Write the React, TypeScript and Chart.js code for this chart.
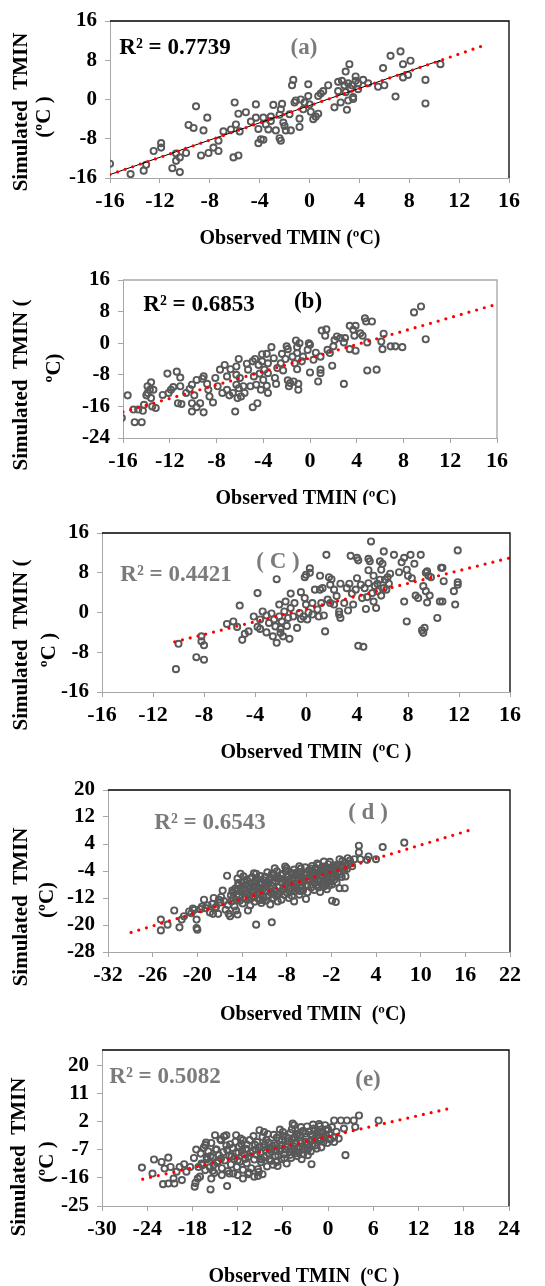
import React, { useEffect, useRef } from 'react';
import { Chart, registerables } from 'chart.js';

Chart.register(...registerables);

const FONT = '"Liberation Serif", "Times New Roman", serif';
const AXIS_GRAY = '#a6a6a6';
const LABEL_GRAY = '#7b7b7b';
const POINT_GRAY = '#595959';
const TREND_RED = '#ff0000';

// ---------- Panel (a) ----------
const aXTicks = [-16, -12, -8, -4, 0, 4, 8, 12, 16];
const aYTicks = [-16, -8, 0, 8, 16];
const aPoints: [number, number][] = [
  [-16.0, -13.1], [-14.35, -15.2], [-13.3, -14.5], [-13.1, -13.3], [-12.5, -10.5], [-11.9, -8.9],
  [-11.9, -9.8], [-11.0, -14.0], [-10.7, -11.0], [-10.7, -12.5], [-10.4, -11.8], [-10.4, -14.8],
  [-9.9, -10.9], [-9.7, -5.2], [-9.3, -5.8], [-9.1, -1.4], [-8.7, -11.4], [-8.5, -6.3],
  [-8.2, -3.7], [-8.1, -10.9], [-7.7, -9.8], [-7.3, -10.5], [-7.3, -8.4], [-6.9, -6.5],
  [-6.3, -6.1], [-6.1, -11.8], [-6.0, -0.6], [-5.9, -5.1], [-5.7, -11.4], [-5.7, -2.9],
  [-5.6, -6.5], [-5.1, -2.6], [-4.7, -4.5], [-4.3, -1.0], [-4.3, -3.7], [-4.1, -6.0],
  [-4.1, -8.9], [-3.9, -8.1], [-3.7, -8.2], [-3.7, -3.7], [-3.5, -5.1], [-3.3, -6.1],
  [-3.1, -4.4], [-3.1, -3.5], [-2.9, -1.1], [-2.7, -6.3], [-2.4, -3.1], [-2.4, -7.9],
  [-2.3, -8.4], [-2.3, -2.0], [-2.2, -0.9], [-2.1, -4.7], [-2.0, -5.4], [-1.9, -6.3],
  [-1.6, -3.0], [-1.5, -6.3], [-1.4, 2.9], [-1.3, 4.0], [-1.2, -0.6], [-1.1, -0.2],
  [-0.8, -3.9], [-0.8, -5.6], [-0.7, 0.0], [-0.5, -2.0], [-0.4, -0.6], [-0.1, 3.1],
  [-0.1, 0.7], [0.0, -1.0], [0.1, -2.5], [0.3, -4.0], [0.5, -3.5], [0.7, -2.9],
  [0.7, 0.7], [0.9, 1.2], [1.1, 1.7], [1.5, 2.9], [2.0, -1.6], [2.3, 3.6],
  [2.3, 1.7], [2.5, -0.6], [2.6, 3.8], [2.8, 2.9], [2.9, 5.7], [2.9, 1.5],
  [3.0, -2.1], [3.1, 3.3], [3.1, -0.2], [3.2, 7.2], [3.3, 2.2], [3.4, 2.9],
  [3.5, 0.5], [3.5, 0.1], [3.7, 4.7], [3.7, 3.8], [3.9, 2.1], [3.9, 3.3],
  [4.3, 4.0], [4.7, 3.3], [5.5, 2.6], [5.9, 6.4], [6.0, 2.9], [6.5, 8.9],
  [6.9, 0.6], [7.3, 9.8], [7.5, 7.2], [7.5, 4.5], [7.9, 5.0], [8.1, 7.9],
  [9.3, 4.0], [9.3, -0.8], [10.5, 7.2],
];
const aTrendX = [-16, 14.3];
const aTrendY = [-15.3, 11.3];
const aRefLineX = [-16, 10.5];
const aRefLineY = [-15.3, 8.0];

// ---------- Panel (b) ----------
const bXTicks = [-16, -12, -8, -4, 0, 4, 8, 12, 16];
const bYTicks = [-24, -16, -8, 0, 8, 16];
const bPoints: [number, number][] = [
  [-16.1, -18.9], [-15.6, -13.2], [-15.1, -16.8], [-15.0, -20.0], [-14.7, -16.8], [-14.4, -20.0],
  [-14.3, -17.1], [-14.2, -15.6], [-14.0, -13.2], [-13.9, -12.6], [-13.9, -10.9], [-13.7, -11.8],
  [-13.6, -9.9], [-13.6, -13.9], [-13.5, -16.0], [-13.4, -11.8], [-13.2, -16.4], [-12.6, -13.1],
  [-12.2, -7.7], [-12.1, -12.6], [-11.9, -11.8], [-11.7, -11.1], [-11.4, -7.2], [-11.3, -15.2],
  [-11.1, -8.7], [-11.1, -10.9], [-11.0, -15.4], [-10.6, -12.6], [-10.3, -11.6], [-10.1, -10.5],
  [-10.1, -15.2], [-10.1, -17.3], [-9.9, -13.2], [-9.7, -9.3], [-9.7, -16.2], [-9.4, -15.2],
  [-9.2, -9.0], [-9.1, -8.4], [-9.1, -17.5], [-8.8, -10.3], [-8.7, -11.8], [-8.6, -13.5],
  [-8.3, -15.0], [-8.1, -8.8], [-7.9, -10.9], [-7.7, -6.7], [-7.5, -12.6], [-7.3, -5.5],
  [-7.1, -8.4], [-7.1, -11.8], [-6.9, -13.2], [-6.8, -6.6], [-6.6, -12.6], [-6.4, -17.3],
  [-6.3, -5.9], [-6.3, -8.0], [-6.3, -10.5], [-6.2, -13.9], [-6.1, -11.4], [-6.1, -4.0],
  [-6.0, -8.8], [-5.9, -13.5], [-5.7, -10.9], [-5.6, -12.6], [-5.4, -5.2], [-5.3, -6.7],
  [-5.1, -10.9], [-4.9, -16.2], [-4.9, -4.6], [-4.8, -8.4], [-4.7, -4.0], [-4.6, -10.5],
  [-4.5, -15.2], [-4.4, -5.5], [-4.3, -7.7], [-4.2, -11.8], [-4.1, -2.8], [-4.1, -4.6],
  [-4.0, -9.3], [-3.9, -6.7], [-3.7, -2.7], [-3.7, -10.8], [-3.6, -7.6], [-3.6, -5.1],
  [-3.6, -12.6], [-3.3, -1.0], [-3.1, -3.8], [-3.0, -8.8], [-2.9, -10.3], [-2.8, -6.3],
  [-2.5, -5.1], [-2.4, -2.7], [-2.3, -6.9], [-2.1, -4.0], [-2.0, -0.8], [-1.9, -1.5],
  [-1.9, -9.4], [-1.8, -10.9], [-1.7, -10.1], [-1.5, -3.4], [-1.4, -9.7], [-1.3, -5.1],
  [-1.2, 0.7], [-1.1, -1.0], [-1.1, -6.6], [-1.1, -2.5], [-1.0, -10.3], [-1.0, -11.8],
  [-0.9, 0.0], [-0.7, -4.6], [-0.6, -3.4], [-0.2, -1.7], [-0.1, 0.0], [0.0, -7.4],
  [0.0, -0.4], [0.3, -4.2], [0.5, -2.4], [0.7, -9.7], [0.9, -3.4], [0.9, -6.7],
  [0.9, -7.6], [1.0, 3.2], [1.3, 1.9], [1.4, 3.5], [1.5, -1.7], [1.7, -2.5],
  [1.9, -5.7], [2.0, -0.8], [2.1, 0.8], [2.3, 1.7], [2.6, 1.3], [2.9, 0.2],
  [2.9, -10.3], [3.0, 1.3], [3.4, 4.4], [3.4, -1.5], [3.7, 3.4], [3.8, 1.9],
  [3.9, 4.4], [3.9, -1.9], [4.3, 2.5], [4.5, 1.9], [4.7, 6.3], [4.8, 5.5],
  [4.9, 0.2], [4.9, -6.9], [5.3, 5.5], [5.7, -6.7], [6.1, 0.4], [6.2, -1.5],
  [6.3, 2.4], [6.9, -0.8], [7.3, -0.8], [7.9, -1.0], [8.9, 7.8], [9.5, 9.3],
  [9.9, 1.0],
];
const bTrendX = [-16, 16];
const bTrendY = [-17.4, 9.9];

// ---------- Panel (c) ----------
const cXTicks = [-16, -12, -8, -4, 0, 4, 8, 12, 16];
const cYTicks = [-16, -8, 0, 8, 16];
const cPoints: [number, number][] = [
  [-10.2, -11.4], [-10.0, -6.3], [-8.6, -9.0], [-8.2, -4.8], [-8.2, -5.8], [-8.0, -6.6],
  [-8.0, -9.5], [-6.2, -2.3], [-5.7, -1.8], [-5.4, -2.9], [-5.2, 1.4], [-5.0, -5.5],
  [-4.8, -4.3], [-4.5, -3.8], [-4.1, -0.8], [-3.8, 3.9], [-3.8, -2.9], [-3.6, -1.4],
  [-3.6, -3.3], [-3.4, 0.2], [-3.1, -0.6], [-3.1, -4.0], [-2.9, -2.1], [-2.7, -0.2],
  [-2.6, -4.8], [-2.5, -1.4], [-2.4, -2.8], [-2.3, 6.7], [-2.3, -6.1], [-2.1, -0.8],
  [-2.1, 1.6], [-2.0, -3.3], [-2.0, -4.1], [-1.9, -1.8], [-1.8, -4.8], [-1.7, 0.2],
  [-1.6, 2.2], [-1.5, -2.7], [-1.4, -1.1], [-1.3, -5.3], [-1.2, 3.8], [-1.2, 0.9],
  [-1.0, -0.8], [-0.9, 1.9], [-0.7, -3.1], [-0.5, -0.1], [-0.4, 4.1], [-0.4, -1.3],
  [-0.2, -0.8], [-0.1, 7.1], [-0.1, 2.9], [0.0, 7.6], [0.0, 1.6], [0.1, -1.4],
  [0.2, 0.0], [0.3, 8.9], [0.3, 8.0], [0.5, 1.9], [0.5, -0.4], [0.7, 4.6],
  [0.9, 0.6], [1.0, -0.8], [1.1, 7.4], [1.1, 4.6], [1.2, 1.9], [1.3, 4.9],
  [1.4, -0.6], [1.5, -3.8], [1.6, 11.6], [1.7, 2.6], [1.8, 7.1], [1.9, 5.6],
  [1.9, 1.9], [2.0, 6.7], [2.2, 4.6], [2.2, 1.6], [2.4, 3.3], [2.6, 0.2],
  [2.6, -0.4], [2.7, -1.1], [2.7, 5.8], [3.0, 1.9], [3.2, 4.9], [3.3, 0.4],
  [3.4, 5.8], [3.5, 11.4], [3.6, 3.8], [3.7, 1.6], [3.9, 4.6], [4.0, 6.9],
  [4.0, 11.0], [4.1, 10.5], [4.1, -6.7], [4.3, 5.6], [4.4, 2.9], [4.5, -6.9],
  [4.6, 4.9], [4.7, 0.7], [4.8, 3.1], [4.9, 10.8], [4.9, 8.5], [4.9, 5.9],
  [5.0, 10.3], [5.1, 14.3], [5.2, 3.9], [5.3, 2.2], [5.3, 7.4], [5.4, 5.3],
  [5.5, 0.9], [5.6, 5.8], [5.6, 4.3], [5.8, 10.3], [5.8, 6.6], [5.9, 8.6],
  [5.9, 3.4], [6.0, 9.8], [6.1, 12.3], [6.1, 4.9], [6.2, 6.6], [6.3, 4.6],
  [6.4, 7.1], [6.5, 5.8], [6.6, 7.8], [6.9, 11.6], [7.3, 8.1], [7.5, 10.1],
  [7.7, 11.0], [7.7, 2.2], [7.9, -1.8], [7.9, 8.6], [8.0, 7.4], [8.2, 11.6],
  [8.3, 6.9], [8.5, 9.8], [8.6, 3.4], [8.8, 2.9], [9.0, 11.6], [9.1, -3.6],
  [9.2, -4.1], [9.3, -3.1], [9.2, 5.3], [9.4, 8.0], [9.4, 4.3], [9.5, 2.0],
  [9.5, 8.3], [9.6, 7.4], [9.7, 3.4], [9.8, 7.1], [10.3, -1.1], [10.5, 2.2],
  [10.6, 9.0], [10.7, 2.2], [10.8, 6.3], [10.7, 9.0], [11.6, 4.3], [11.7, 1.6],
  [11.9, 12.5], [11.9, 6.1], [11.9, 5.6],
];
const cTrendX = [-10.3, 16];
const cTrendY = [-5.9, 11.0];

// ---------- Panel (d) ----------
const dXTicks = [-32, -26, -20, -14, -8, -2, 4, 10, 16, 22];
const dYTicks = [-28, -20, -12, -4, 4, 12, 20];
const dPoints: [number, number][] = [
  [-24.9, -18.4], [-24.9, -21.6], [-24.0, -19.9], [-23.1, -15.7], [-22.4, -20.7], [-22.1, -18.4],
  [-21.8, -17.4], [-21.1, -16.0], [-20.8, -16.5], [-20.4, -15.5], [-20.1, -18.4], [-20.1, -20.9],
  [-20.0, -21.4], [-19.6, -15.3], [-19.1, -12.5], [-18.9, -15.0], [-18.3, -16.3], [-17.9, -16.7],
  [-17.6, -15.0], [-17.2, -16.7], [-17.1, -12.5], [-16.8, -11.7], [-16.6, -9.8], [-16.2, -15.5],
  [-16.0, -5.4], [-15.8, -16.7], [-15.6, -17.4], [-15.4, -13.0], [-15.3, -9.8], [-15.0, -14.5],
  [-14.8, -15.7], [-14.6, -16.9], [-14.5, -7.6], [-14.4, -11.5], [-14.2, -4.8], [-13.2, -15.7],
  [-12.1, -19.9], [-12.1, -4.8], [-10.0, -19.2], [-9.6, -3.2], [-8.2, -2.7], [-7.0, -13.0],
  [-5.4, -12.3], [-3.0, -1.2], [-1.9, -12.8], [-1.4, -13.2], [-0.9, -9.1], [-0.2, -9.1],
  [-0.1, -5.6], [-0.9, -0.5], [0.2, -0.2], [1.1, -0.5], [1.7, 1.5], [1.7, 3.5],
  [1.9, -0.5], [2.8, -0.7], [3.0, 0.3], [4.0, -0.5], [4.9, 3.1], [7.8, 4.4],
  [-18.6, -14.2], [-18.0, -13.8], [-17.5, -14.7], [-16.9, -13.3], [-16.4, -12.9], [-15.9, -14.1],
  [-15.5, -11.2], [-15.2, -12.1], [-17.8, -12.0], [-19.4, -14.6], [-20.6, -15.1],
  [-14.9, -9.2], [-14.7, -11.0], [-14.5, -8.3], [-14.3, -12.8], [-14.2, -10.1], [-14.0, -7.4],
  [-13.9, -13.6], [-13.8, -9.6], [-13.6, -11.8], [-13.5, -8.1], [-13.4, -6.6], [-13.3, -10.7],
  [-13.1, -12.4], [-13.0, -9.0], [-12.9, -14.2], [-12.8, -7.8], [-12.7, -10.3], [-12.6, -5.9],
  [-12.5, -11.5], [-12.4, -8.6], [-12.3, -13.1], [-12.2, -9.8], [-12.1, -7.1], [-12.0, -11.0],
  [-11.9, -6.4], [-11.8, -12.2], [-11.7, -8.9], [-11.6, -10.4], [-11.5, -5.5], [-11.4, -13.5],
  [-11.3, -7.7], [-11.2, -9.3], [-11.1, -11.7], [-11.0, -6.8], [-10.9, -8.2], [-10.8, -12.8],
  [-10.7, -10.0], [-10.6, -4.4], [-10.5, -7.3], [-10.4, -11.2], [-10.3, -9.1], [-10.2, -13.9],
  [-10.1, -6.0], [-10.0, -10.6], [-9.9, -8.5], [-9.8, -12.0], [-9.7, -5.2], [-9.6, -9.7],
  [-9.5, -7.0], [-9.4, -11.4], [-9.3, -4.1], [-9.2, -13.0], [-9.0, -8.8], [-8.9, -6.3],
  [-8.8, -10.2], [-8.7, -12.5], [-8.6, -7.6], [-8.5, -4.8], [-8.4, -9.4], [-8.3, -11.1],
  [-8.2, -6.9], [-8.1, -3.9], [-8.0, -8.0], [-7.9, -10.5], [-7.8, -5.6], [-7.7, -12.0],
  [-7.6, -7.2], [-7.5, -9.0], [-7.4, -4.5], [-7.3, -11.4], [-7.2, -6.1], [-7.1, -8.4],
  [-7.0, -3.6], [-6.9, -10.0], [-6.8, -5.3], [-6.7, -7.8], [-6.6, -9.3], [-6.5, -4.2],
  [-6.4, -6.6], [-6.3, -11.0], [-6.2, -8.7], [-6.1, -3.3], [-6.0, -5.9], [-5.9, -7.4],
  [-5.8, -9.8], [-5.7, -4.6], [-5.6, -6.9], [-5.5, -2.9], [-5.4, -8.2], [-5.3, -5.1],
  [-5.2, -10.3], [-5.0, -3.8], [-4.9, -7.0], [-4.8, -5.5], [-4.7, -8.9], [-4.6, -2.5],
  [-4.5, -6.2], [-4.4, -4.3], [-4.3, -9.6], [-4.2, -7.5], [-4.1, -3.1], [-4.0, -5.8],
  [-3.9, -8.1], [-3.8, -4.9], [-3.7, -2.2], [-3.6, -6.7], [-3.5, -10.2], [-3.4, -3.9],
  [-3.3, -7.8], [-3.2, -5.3], [-3.1, -2.7], [-3.0, -8.6], [-2.9, -4.5], [-2.8, -6.4],
  [-2.7, -3.3], [-2.6, -9.4], [-2.5, -5.6], [-2.4, -2.0], [-2.3, -7.2], [-2.2, -4.0],
  [-2.1, -6.0], [-2.0, -3.0], [-1.9, -8.0], [-1.8, -4.8], [-1.7, -2.4], [-1.6, -6.6],
  [-1.5, -3.7], [-1.4, -5.2], [-1.3, -7.4], [-1.2, -2.8], [-1.0, -4.3], [-0.8, -3.1],
  [-0.6, -5.8], [-0.5, -2.3], [-0.3, -3.8], [-0.1, -1.6], [0.1, -3.4], [0.3, -2.0],
  [0.5, -0.9], [0.8, -2.6],
  [-13.7, -7.0], [-13.2, -8.4], [-12.9, -6.2], [-12.3, -7.5], [-11.9, -9.5], [-11.4, -8.0],
  [-10.9, -5.7], [-10.4, -6.6], [-9.9, -7.4], [-9.4, -6.1], [-8.8, -5.2], [-8.3, -8.6],
  [-7.7, -6.5], [-7.2, -4.9], [-6.6, -6.0], [-6.1, -7.1], [-5.6, -5.2], [-5.1, -6.4],
  [-4.6, -4.0], [-4.1, -5.0], [-3.6, -4.4], [-3.1, -5.8], [-2.6, -3.7], [-2.1, -4.9],
  [-1.6, -3.2], [-1.1, -4.6], [-6.9, -8.8], [-11.6, -12.6], [-12.7, -12.0], [-10.7, -11.6],
  [-9.1, -10.8], [-5.9, -8.6], [-4.4, -7.0], [-2.8, -7.9], [-14.1, -9.1], [-13.5, -12.3],
  [-10.0, -4.9], [-8.0, -3.2], [-6.3, -2.6], [-3.9, -1.8], [-2.2, -1.3], [-0.5, -1.0],
  [-14.6, -6.2], [-13.0, -11.3], [-12.2, -6.7], [-11.2, -12.6], [-10.6, -7.9], [-9.7, -10.8],
  [-9.2, -5.9], [-8.6, -9.7], [-7.9, -7.0], [-7.4, -10.1], [-6.8, -4.7], [-6.2, -9.9],
  [-5.7, -6.2], [-5.2, -8.4], [-4.7, -3.3], [-4.2, -6.3], [-3.7, -8.9], [-3.2, -3.4],
  [-2.7, -5.1], [-2.3, -8.3], [-1.8, -5.9], [-1.3, -2.2], [-0.8, -5.0], [-0.4, -3.0],
  [0.0, -2.5], [0.6, -1.8], [-15.2, -10.4], [-14.8, -12.6], [-13.8, -5.6], [-12.4, -4.7],
];
const dTrendX = [-28.9, 17.2];
const dTrendY = [-22.2, 8.5];

// ---------- Panel (e) ----------
const eXTicks = [-30, -24, -18, -12, -6, 0, 6, 12, 18, 24];
const eYTicks = [-25, -16, -7, 2, 11, 20];
const ePoints: [number, number][] = [
  [-24.7, -12.7], [-23.3, -14.6], [-23.1, -10.1], [-22.1, -10.9], [-21.9, -18.0], [-21.7, -13.0],
  [-21.2, -9.5], [-21.2, -17.8], [-20.9, -12.5], [-20.5, -16.2], [-20.4, -17.8], [-20.1, -14.0],
  [-19.7, -12.5], [-19.4, -16.7], [-19.1, -11.6], [-18.8, -14.0], [-18.3, -12.5], [-17.7, -18.8],
  [-17.6, -17.6], [-17.5, -6.9], [-17.3, -16.2], [-17.0, -15.6], [-17.2, -12.5], [-16.8, -11.4],
  [-16.3, -5.5], [-16.1, -9.3], [-15.6, -19.7], [-15.5, -16.2], [-15.3, -13.7], [-15.0, -2.3],
  [-14.8, -6.9], [-14.2, -3.9], [-14.1, -15.1], [-13.5, -2.3], [-13.4, -18.6], [-13.1, -14.6],
  [-12.2, -2.3], [-12.0, -15.1], [-11.3, -3.9], [-11.3, -16.2], [-10.6, -14.8], [-9.8, -15.6],
  [-9.3, -15.4], [-9.1, -0.7], [-8.5, -1.3], [-8.7, -14.8], [-4.7, 1.4], [-2.7, -8.7],
  [-2.2, -11.6], [0.8, 2.4], [1.7, 2.4], [2.1, -0.2], [2.3, -8.7], [2.5, 2.4],
  [3.4, 2.4], [3.6, 0.3], [4.1, 4.0], [6.7, 2.4], [0.8, -4.5], [1.4, -3.4],
  [-16.9, -8.2], [-16.7, -11.9], [-16.5, -6.3], [-16.3, -13.5], [-16.1, -10.1], [-15.9, -7.5],
  [-15.7, -12.6], [-15.5, -4.8], [-15.3, -9.4], [-15.1, -14.4], [-14.9, -6.9], [-14.7, -11.2],
  [-14.5, -8.7], [-14.3, -3.6], [-14.1, -12.9], [-13.9, -7.7], [-13.7, -10.4], [-13.5, -5.6],
  [-13.3, -13.8], [-13.1, -8.9], [-12.9, -11.7], [-12.7, -6.4], [-12.5, -9.9], [-12.3, -4.4],
  [-12.1, -12.5], [-11.9, -7.9], [-11.7, -10.8], [-11.5, -5.1], [-11.3, -13.4], [-11.1, -8.5],
  [-10.9, -6.7], [-10.8, -11.3], [-10.6, -9.2], [-10.4, -3.9], [-10.2, -12.9], [-10.0, -7.3],
  [-9.8, -10.1], [-9.7, -5.4], [-9.5, -8.6], [-9.3, -13.2], [-9.1, -6.1], [-8.9, -11.0],
  [-8.7, -2.9], [-8.5, -9.4], [-8.3, -7.0], [-8.1, -12.3], [-7.9, -4.7], [-7.8, -8.2],
  [-7.6, -10.6], [-7.4, -5.9], [-7.2, -2.2], [-7.0, -9.0], [-6.9, -7.1], [-6.7, -12.2],
  [-6.5, -4.0], [-6.3, -6.6], [-6.2, -10.0], [-6.0, -1.3], [-5.8, -8.4], [-5.6, -5.2],
  [-5.5, -11.4], [-5.3, -3.3], [-5.1, -7.6], [-4.9, -9.6], [-4.8, -0.4], [-4.6, -5.8],
  [-4.4, -3.0], [-4.2, -8.1], [-4.0, -1.8], [-3.9, -6.4], [-3.7, -4.2], [-3.5, -10.0],
  [-3.3, -0.9], [-3.1, -7.0], [-2.9, -2.9], [-2.7, -5.3], [-2.5, -1.1], [-2.3, -7.5],
  [-2.1, -3.8], [-1.9, -0.2], [-1.7, -5.6], [-1.5, -2.4], [-1.3, -4.1], [-1.1, 0.6],
  [-0.9, -6.2], [-0.7, -1.7], [-0.5, -3.3], [-0.3, -0.5], [-0.1, -4.8], [0.2, -2.1],
  [0.5, 0.3], [0.8, -3.0], [1.1, -1.2],
  [-9.6, -6.8], [-9.0, -8.0], [-8.4, -5.4], [-7.7, -6.9], [-7.1, -4.9], [-6.6, -8.9],
  [-6.1, -5.6], [-5.7, -6.9], [-5.2, -4.3], [-4.7, -7.2], [-4.3, -5.0], [-3.8, -2.5],
  [-3.4, -5.9], [-3.0, -4.5], [-2.6, -6.3], [-2.2, -2.2], [-1.8, -3.5], [-1.4, -1.2],
  [-1.0, -3.9], [-0.6, -2.6], [-10.3, -8.0], [-11.0, -9.9], [-12.2, -8.0], [-13.0, -5.2],
  [-14.2, -9.8], [-15.6, -9.0], [-6.8, -3.1], [-5.9, -2.6], [-5.0, -1.5], [-4.1, -9.0],
  [-8.8, -10.1], [-7.3, -11.8], [-12.6, -14.6], [-10.5, -14.3], [-9.2, -14.1], [-11.6, -3.4],
  [-13.8, -2.7], [-4.5, 0.9], [-3.6, 0.3], [-2.8, 0.5], [-2.0, 1.1], [-1.2, 1.3],
  [-0.4, 0.9], [-6.4, -0.5], [-8.0, -1.9], [-9.9, -2.6], [-16.2, -4.7], [-17.8, -9.6],
  [-9.4, -4.5], [-9.0, -9.8], [-8.6, -6.2], [-8.2, -3.8], [-7.8, -10.0], [-7.5, -7.6],
  [-7.0, -5.6], [-6.8, -10.9], [-6.4, -7.4], [-6.1, -3.8], [-5.8, -9.7], [-5.4, -6.0],
  [-5.0, -8.6], [-4.8, -3.6], [-4.5, -6.6], [-4.2, -2.2], [-3.9, -7.8], [-3.6, -4.9],
  [-3.3, -8.4], [-3.0, -1.8], [-2.7, -7.0], [-2.4, -4.2], [-2.1, -5.6], [-1.8, -1.0],
  [-1.5, -6.6], [-1.2, -3.2], [-0.9, -1.4], [-0.6, -4.4], [-0.3, -2.2], [0.0, -0.4],
  [0.3, -3.7], [-11.4, -7.2], [-12.0, -10.4], [-12.8, -9.1], [-13.4, -7.0], [-14.6, -10.6],
  [-15.2, -11.8], [-16.0, -9.7], [-10.8, -5.3], [-11.8, -6.0],
];
const eTrendX = [-24.6, 16.7];
const eTrendY = [-16.4, 6.6];

// ---------- Layout / component ----------
type TextItem = { text: string; x: number; y: number; color: string; size: number; rotate?: boolean };
type PanelCfg = {
  top: number;
  height: number;
  area: { left: number; right: number; top: number; bottom: number };
  xRange: [number, number];
  yRange: [number, number];
  xTicks: number[];
  yTicks: number[];
  points: [number, number][];
  trendX: number[];
  trendY: number[];
  lineX?: number[];
  lineY?: number[];
  frameColor: string;
  texts: TextItem[];
};

const PAGE_W = 545;
const Y_AXIS_W = 60;
const X_AXIS_H = 40;

const panels: PanelCfg[] = [
  {
    top: 0, height: 252,
    area: { left: 110, right: 509, top: 21, bottom: 178 },
    xRange: [-16, 16], yRange: [-16, 16], xTicks: aXTicks, yTicks: aYTicks,
    points: aPoints, trendX: aTrendX, trendY: aTrendY, lineX: aRefLineX, lineY: aRefLineY,
    frameColor: '#000000',
    texts: [
      { text: 'R² = 0.7739', x: 175, y: 48, color: '#000000', size: 23 },
      { text: '(a)', x: 304, y: 48, color: LABEL_GRAY, size: 23 },
      { text: 'Observed TMIN (ºC)', x: 290, y: 239, color: '#000000', size: 20 },
      { text: 'Simulated  TMIN', x: 22, y: 112, color: '#000000', size: 21, rotate: true },
      { text: '(ºC )', x: 45, y: 117, color: '#000000', size: 21, rotate: true },
    ],
  },
  {
    top: 252, height: 253,
    area: { left: 123, right: 497, top: 280, bottom: 438 },
    xRange: [-16, 16], yRange: [-24, 16], xTicks: bXTicks, yTicks: bYTicks,
    points: bPoints, trendX: bTrendX, trendY: bTrendY,
    frameColor: AXIS_GRAY,
    texts: [
      { text: 'R² = 0.6853', x: 199, y: 305, color: '#000000', size: 23 },
      { text: '(b)', x: 308, y: 302, color: '#000000', size: 23 },
      { text: 'Observed TMIN (ºC)', x: 306, y: 499, color: '#000000', size: 20 },
      { text: 'Simulated  TMIN (', x: 22, y: 385, color: '#000000', size: 21, rotate: true },
      { text: 'ºC)', x: 55, y: 368, color: '#000000', size: 21, rotate: true },
    ],
  },
  {
    top: 505, height: 260,
    area: { left: 102, right: 510, top: 533, bottom: 692 },
    xRange: [-16, 16], yRange: [-16, 16], xTicks: cXTicks, yTicks: cYTicks,
    points: cPoints, trendX: cTrendX, trendY: cTrendY,
    frameColor: '#000000',
    texts: [
      { text: 'R² = 0.4421', x: 176, y: 575, color: LABEL_GRAY, size: 23 },
      { text: '( C )', x: 278, y: 562, color: LABEL_GRAY, size: 23 },
      { text: 'Observed TMIN  (ºC )', x: 316, y: 753, color: '#000000', size: 20 },
      { text: 'Simulated  TMIN (', x: 22, y: 645, color: '#000000', size: 21, rotate: true },
      { text: 'ºC )', x: 50, y: 650, color: '#000000', size: 21, rotate: true },
    ],
  },
  {
    top: 765, height: 260,
    area: { left: 108, right: 510, top: 790, bottom: 952 },
    xRange: [-32, 22], yRange: [-28, 20], xTicks: dXTicks, yTicks: dYTicks,
    points: dPoints, trendX: dTrendX, trendY: dTrendY,
    frameColor: '#000000',
    texts: [
      { text: 'R² = 0.6543', x: 210, y: 823, color: LABEL_GRAY, size: 23 },
      { text: '( d )', x: 368, y: 813, color: LABEL_GRAY, size: 23 },
      { text: 'Observed TMIN  (ºC)', x: 313, y: 1015, color: '#000000', size: 20 },
      { text: 'Simulated  TMIN', x: 22, y: 907, color: '#000000', size: 21, rotate: true },
      { text: '(ºC)', x: 48, y: 900, color: '#000000', size: 21, rotate: true },
    ],
  },
  {
    top: 1025, height: 261,
    area: { left: 102, right: 509, top: 1050, bottom: 1206 },
    xRange: [-30, 24], yRange: [-25, 25], xTicks: eXTicks, yTicks: eYTicks,
    points: ePoints, trendX: eTrendX, trendY: eTrendY,
    frameColor: '#000000',
    texts: [
      { text: 'R² = 0.5082', x: 165, y: 1077, color: LABEL_GRAY, size: 23 },
      { text: '(e)', x: 368, y: 1080, color: LABEL_GRAY, size: 23 },
      { text: 'Observed TMIN  (ºC )', x: 304, y: 1277, color: '#000000', size: 20 },
      { text: 'Simulated  TMIN', x: 20, y: 1157, color: '#000000', size: 21, rotate: true },
      { text: '(ºC )', x: 48, y: 1162, color: '#000000', size: 21, rotate: true },
    ],
  },
];

function Panel({ cfg }: { cfg: PanelCfg }) {
  const ref = useRef<HTMLCanvasElement | null>(null);

  useEffect(() => {
    const canvas = ref.current;
    if (!canvas) return;

    const decorPlugin = {
      id: 'panelDecor',
      afterDraw(chart: any) {
        const ctx = chart.ctx as CanvasRenderingContext2D;
        const { left, right, top, bottom } = chart.chartArea;
        ctx.save();
        ctx.strokeStyle = cfg.frameColor;
        ctx.lineWidth = 1.3;
        ctx.beginPath();
        ctx.moveTo(left, top);
        ctx.lineTo(right, top);
        ctx.lineTo(right, bottom);
        ctx.stroke();
        for (const t of cfg.texts) {
          ctx.save();
          ctx.font = `bold ${t.size}px ${FONT}`;
          ctx.fillStyle = t.color;
          ctx.textAlign = 'center';
          ctx.textBaseline = 'middle';
          ctx.translate(t.x, t.y - cfg.top);
          if (t.rotate) ctx.rotate(-Math.PI / 2);
          ctx.fillText(t.text, 0, 0);
          ctx.restore();
        }
        ctx.restore();
      },
    };

    const tickFont = (size: number) => ({ family: FONT, size, weight: 'bold' as const });

    const datasets: any[] = [
      {
        label: 'trend',
        data: cfg.trendX.map((x, i) => ({ x, y: cfg.trendY[i] })),
        showLine: true,
        borderColor: TREND_RED,
        borderWidth: 3.2,
        borderDash: [0, 8],
        borderCapStyle: 'round',
        pointRadius: 0,
        fill: false,
      },
    ];
    if (cfg.lineX && cfg.lineY) {
      datasets.push({
        label: 'line',
        data: cfg.lineX.map((x, i) => ({ x, y: cfg.lineY![i] })),
        showLine: true,
        borderColor: '#000000',
        borderWidth: 1,
        pointRadius: 0,
        fill: false,
      });
    }
    datasets.push({
      label: 'points',
      data: cfg.points.map(([x, y]) => ({ x, y })),
      showLine: false,
      pointStyle: 'circle',
      pointRadius: 3.1,
      pointBorderWidth: 1.9,
      borderColor: POINT_GRAY,
      backgroundColor: 'rgba(0,0,0,0)',
      pointBorderColor: POINT_GRAY,
      pointBackgroundColor: 'rgba(0,0,0,0)',
    });

    const chart = new Chart(canvas, {
      type: 'scatter',
      data: { datasets },
      options: {
        animation: false,
        responsive: false,
        devicePixelRatio: 1,
        events: [],
        layout: {
          padding: {
            left: cfg.area.left - Y_AXIS_W,
            right: PAGE_W - cfg.area.right,
            top: cfg.area.top - cfg.top,
            bottom: cfg.top + cfg.height - cfg.area.bottom - X_AXIS_H,
          },
        },
        plugins: {
          legend: { display: false },
          tooltip: { enabled: false },
          title: { display: false },
        },
        scales: {
          x: {
            type: 'linear',
            min: cfg.xRange[0],
            max: cfg.xRange[1],
            afterBuildTicks: (axis: any) => {
              axis.ticks = cfg.xTicks.map((v) => ({ value: v }));
            },
            afterFit: (axis: any) => {
              axis.height = X_AXIS_H;
            },
            grid: { display: true, drawOnChartArea: false, drawTicks: true, tickLength: 5, color: AXIS_GRAY },
            border: { display: true, color: AXIS_GRAY, width: 1 },
            ticks: { font: tickFont(22), color: '#000000', padding: 5, maxRotation: 0, autoSkip: false },
          },
          y: {
            type: 'linear',
            min: cfg.yRange[0],
            max: cfg.yRange[1],
            afterBuildTicks: (axis: any) => {
              axis.ticks = cfg.yTicks.map((v) => ({ value: v }));
            },
            afterFit: (axis: any) => {
              axis.width = Y_AXIS_W;
            },
            grid: { display: true, drawOnChartArea: false, drawTicks: true, tickLength: 5, color: AXIS_GRAY },
            border: { display: true, color: AXIS_GRAY, width: 1 },
            ticks: { font: tickFont(21), color: '#000000', padding: 8, autoSkip: false },
          },
        },
      } as any,
      plugins: [decorPlugin],
    });

    return () => chart.destroy();
  }, [cfg]);

  return (
    <canvas
      ref={ref}
      width={PAGE_W}
      height={cfg.height}
      style={{ position: 'absolute', left: 0, top: cfg.top, width: PAGE_W, height: cfg.height, display: 'block' }}
    />
  );
}

export default function App() {
  return (
    <div style={{ position: 'absolute', left: 0, top: 0, width: PAGE_W, height: 1286, background: '#ffffff' }}>
      {panels.map((p, i) => (
        <Panel key={i} cfg={p} />
      ))}
    </div>
  );
}
